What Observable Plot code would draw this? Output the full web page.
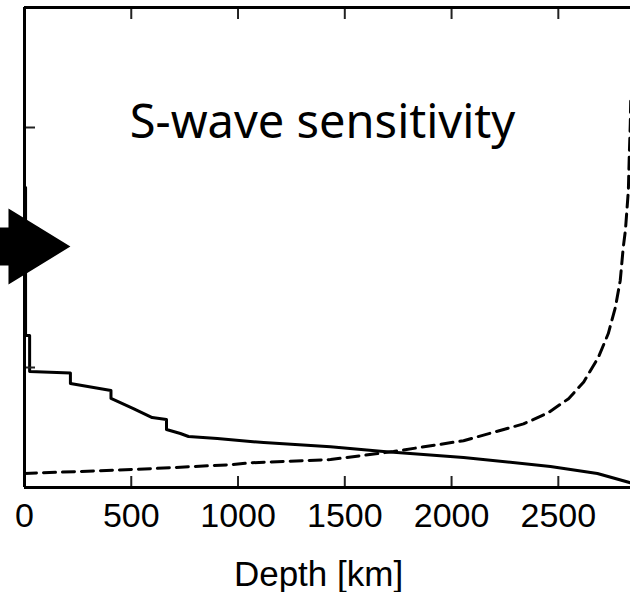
<!DOCTYPE html>
<html><head><meta charset="utf-8">
<script src="https://cdn.jsdelivr.net/npm/d3@7"></script>
<script src="https://cdn.jsdelivr.net/npm/@observablehq/plot@0.6"></script>
<style>body{margin:0;background:#fff}svg{display:block}</style>
</head><body><div id="chart"></div>
<script>
// Solid curve (sensitivity kernel, top-heavy)
const solidDepth = [5, 5, 24, 24, 215, 215, 405, 405, 510, 598, 665, 665, 730, 768, 903, 1058, 1120, 1433, 1681, 2056, 2463, 2683, 2837, 2891];
const solidValue = [2.5, 1.267, 1.267, 0.967, 0.954, 0.867, 0.808, 0.742, 0.658, 0.583, 0.567, 0.483, 0.45, 0.425, 0.408, 0.383, 0.375, 0.339, 0.30, 0.25, 0.175, 0.117, 0.04, 0.0];
// Dashed curve (sensitivity rising toward the core-mantle boundary)
const dashDepth = [0, 510, 965, 1058, 1433, 1728, 2056, 2337, 2450, 2548, 2619, 2687, 2734, 2767, 2790, 2804, 2814, 2828, 2832, 2837, 2839];
const dashValue = [0.117, 0.15, 0.19, 0.206, 0.233, 0.30, 0.39, 0.53, 0.62, 0.74, 0.88, 1.083, 1.283, 1.5, 1.725, 2.0, 2.14, 2.475, 2.75, 3.03, 3.22];
// Arrow annotation outline (depth, value)
const arrowDepth = [-140, -75, -75, 215, -75, -75, -140];
const arrowValue = [2.167, 2.167, 2.325, 2.008, 1.692, 1.85, 1.85];
const xTicks = [0, 500, 1000, 1500, 2000, 2500];
const yTicks = [1, 2, 3];
const titleText = "S-wave sensitivity";
const xLabel = "Depth [km]";

const solid = solidDepth.map((d, i) => ({depth: d, value: solidValue[i]}));
const dashed = dashDepth.map((d, i) => ({depth: d, value: dashValue[i]}));
const arrow = arrowDepth.map((d, i) => ({depth: d, value: arrowValue[i]}));

const chart = Plot.plot({
  width: 630,
  height: 592,
  marginLeft: 24,
  marginRight: 0,
  marginTop: 7,
  marginBottom: 105,
  style: {background: "#fff", color: "#000"},
  x: {domain: [0, 2838], axis: null},
  y: {domain: [0, 4], axis: null},
  marks: [
    Plot.line(dashed, {x: "depth", y: "value", stroke: "#000", strokeWidth: 3, strokeDasharray: "12,7", clip: true}),
    Plot.line(solid, {x: "depth", y: "value", stroke: "#000", strokeWidth: 3, clip: true}),
    Plot.axisX({anchor: "bottom", ticks: xTicks, tickSize: -11, strokeWidth: 2, tickFormat: () => "", stroke: "#222", label: null}),
    Plot.axisX({anchor: "top", ticks: xTicks, tickSize: -11, strokeWidth: 2, tickFormat: () => "", stroke: "#222", label: null}),
    Plot.axisY({anchor: "left", ticks: yTicks, tickSize: -11, strokeWidth: 2, tickFormat: () => "", stroke: "#222", label: null}),
    Plot.axisX({anchor: "bottom", ticks: xTicks, tickSize: 0, tickPadding: 15, tickFormat: d => String(d), fontSize: 34, fontFamily: "Liberation Sans, Arial, sans-serif", fill: "#000", label: null}),
    Plot.ruleX([0], {stroke: "#000", strokeWidth: 3}),
    Plot.ruleY([0, 4], {stroke: "#000", strokeWidth: 3}),
    Plot.line(arrow, {x: "depth", y: "value", fill: "#000", stroke: "none", clip: false}),
    Plot.text([titleText], {frameAnchor: "top", lineAnchor: "bottom", dx: -5, dy: 130, fontSize: 47, fontFamily: "Noto Sans, sans-serif", fill: "#000", text: d => d}),
    Plot.text([xLabel], {frameAnchor: "bottom", lineAnchor: "bottom", dx: -9, dy: 98, fontSize: 35, fontFamily: "Liberation Sans, Arial, sans-serif", fill: "#000", text: d => d})
  ]
});
document.getElementById("chart").appendChild(chart);
</script>
</body></html>
